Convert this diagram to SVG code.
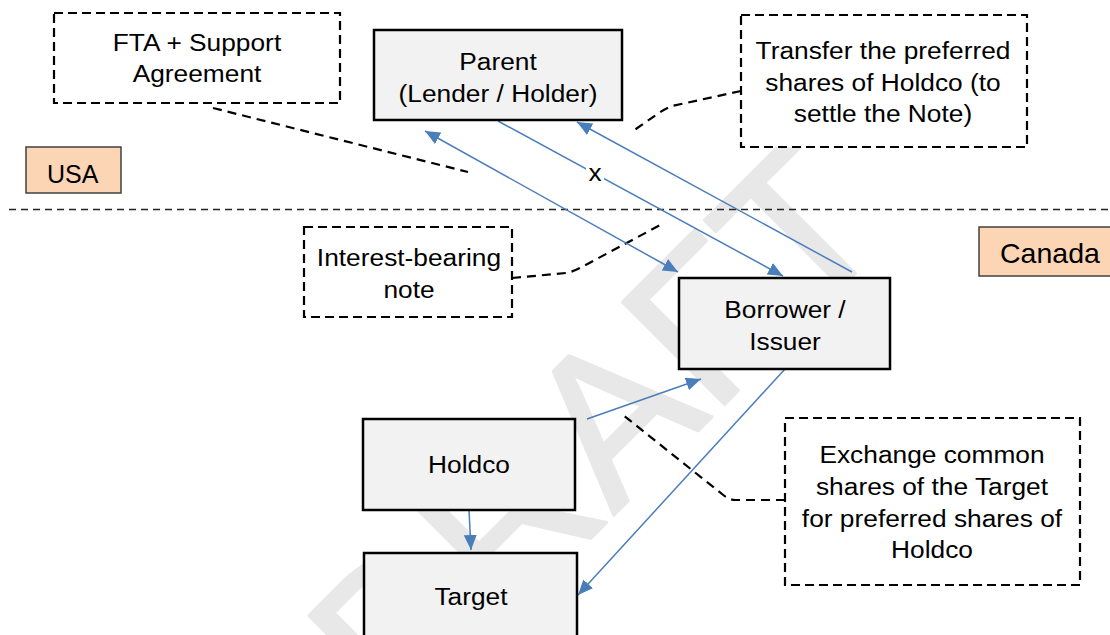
<svg xmlns="http://www.w3.org/2000/svg" width="1110" height="635" viewBox="0 0 1110 635">
  <style>
    .node rect { fill: #f2f2f2; stroke: #000; stroke-width: 2.5; }
    .note rect { fill: #fff; stroke: #000; stroke-width: 2.2; stroke-dasharray: 9 5; }
    .region rect { fill: #fcd5b5; stroke: #404040; stroke-width: 1.5; }
    .lbl { font-family: "Liberation Sans", Arial, sans-serif; font-size: 23.5px; fill: #000; text-anchor: middle;
           transform-box: fill-box; transform-origin: center; transform: scaleX(1.12); }
    .rlbl { font-family: "Liberation Sans", Arial, sans-serif; fill: #000; }
    .flow { stroke: #4a7ebb; stroke-width: 1.5; fill: none; }
    .lead { stroke: #000; stroke-width: 2.2; stroke-dasharray: 9 6; fill: none; }
    .border { stroke: #222; stroke-width: 1.5; stroke-dasharray: 7 5; fill: none; }
    .wm { font-family: "Liberation Sans", Arial, sans-serif; font-size: 210px; fill: #e8e8e8;
          stroke: #e8e8e8; stroke-width: 3; stroke-linejoin: round; }
  </style>
  <defs>
    <marker id="head" viewBox="0 0 15 13" markerWidth="15" markerHeight="13" refX="15" refY="6.5"
            markerUnits="userSpaceOnUse" orient="auto-start-reverse">
      <path d="M0,0 L15,6.5 L0,13 z" fill="#4a7ebb"/>
    </marker>
  </defs>

  <rect width="1110" height="635" fill="#fff"/>

  <!-- watermark -->
  <text class="wm" transform="translate(399,730) rotate(-45)">DRAFT</text>

  <!-- border between jurisdictions -->
  <line class="border" x1="9" y1="209.5" x2="1110" y2="209.5"/>

  <g id="usa" class="region">
    <rect x="26" y="147" width="95" height="46"/>
    <text class="rlbl" x="47" y="183" font-size="25">USA</text>
  </g>
  <g id="canada" class="region">
    <rect x="979" y="227" width="140" height="49"/>
    <text class="rlbl" x="1000" y="263" font-size="28.5">Canada</text>
  </g>

  <!-- callout leaders -->
  <g id="leaders">
    <path class="lead" d="M213,108 L468,172"/>
    <path class="lead" d="M741,91 L672,106 Q664,109 656,115 L633,131"/>
    <path class="lead" d="M512,278 L566,273 Q572,272 580,268 L664,223"/>
    <path class="lead" d="M785,500 L735,500 Q729,500 722,494 L623,415"/>
  </g>

  <!-- connectors -->
  <g id="connectors">
    <line class="flow" x1="425" y1="131" x2="678" y2="272" marker-start="url(#head)" marker-end="url(#head)"/>
    <line class="flow" x1="498" y1="121" x2="783" y2="276" marker-end="url(#head)"/>
    <line class="flow" x1="852" y1="272" x2="577" y2="122" marker-end="url(#head)"/>
    <line class="flow" x1="587" y1="419" x2="701" y2="379" marker-end="url(#head)"/>
    <line class="flow" x1="785" y1="369" x2="578" y2="595" marker-end="url(#head)"/>
    <line class="flow" x1="469" y1="510" x2="471" y2="550" marker-end="url(#head)"/>
    <g id="x-label">
      <rect x="586" y="162" width="18" height="22" fill="#fff"/>
      <text class="lbl" x="595" y="181" font-size="24">x</text>
    </g>
  </g>

  <!-- entities -->
  <g id="parent" class="node">
    <rect x="374" y="30" width="248" height="90"/>
    <text class="lbl"><tspan x="498" y="70">Parent</tspan><tspan x="498" y="102">(Lender / Holder)</tspan></text>
  </g>
  <g id="borrower" class="node">
    <rect x="679" y="278" width="211" height="91"/>
    <text class="lbl"><tspan x="785" y="318">Borrower /</tspan><tspan x="785" y="350">Issuer</tspan></text>
  </g>
  <g id="holdco" class="node">
    <rect x="363" y="419" width="212" height="91"/>
    <text class="lbl" x="469" y="473">Holdco</text>
  </g>
  <g id="target" class="node">
    <rect x="364" y="553" width="213" height="95"/>
    <text class="lbl" x="471" y="605">Target</text>
  </g>

  <!-- notes -->
  <g id="note-fta" class="note">
    <rect x="54" y="13" width="286" height="90"/>
    <text class="lbl"><tspan x="197" y="51">FTA + Support</tspan><tspan x="197" y="82">Agreement</tspan></text>
  </g>
  <g id="note-transfer" class="note">
    <rect x="741" y="15" width="286" height="132"/>
    <text class="lbl"><tspan x="883" y="59">Transfer the preferred</tspan><tspan x="883" y="91">shares of Holdco (to</tspan><tspan x="883" y="122">settle the Note)</tspan></text>
  </g>
  <g id="note-interest" class="note">
    <rect x="304" y="227" width="208" height="90"/>
    <text class="lbl"><tspan x="409" y="266">Interest-bearing</tspan><tspan x="409" y="298">note</tspan></text>
  </g>
  <g id="note-exchange" class="note">
    <rect x="785" y="418" width="295" height="167"/>
    <text class="lbl"><tspan x="932" y="463">Exchange common</tspan><tspan x="932" y="495">shares of the Target</tspan><tspan x="932" y="527">for preferred shares of</tspan><tspan x="932" y="558">Holdco</tspan></text>
  </g>
</svg>
